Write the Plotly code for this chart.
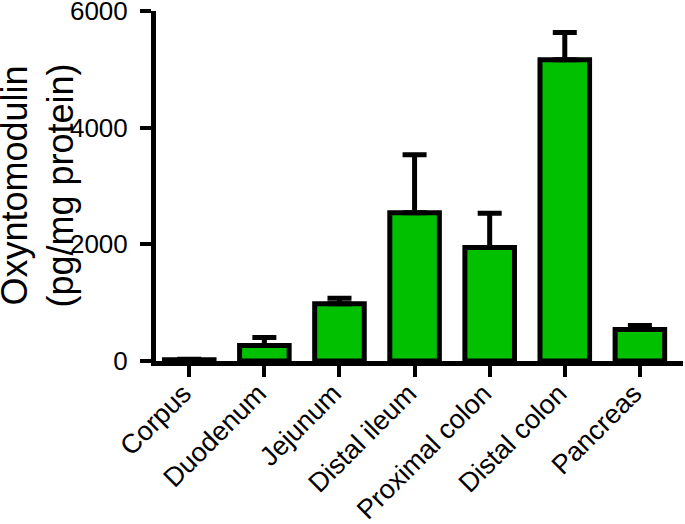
import plotly.graph_objects as go

categories = ["Corpus", "Duodenum", "Jejunum", "Distal ileum", "Proximal colon", "Distal colon", "Pancreas"]
values = [20, 265, 980, 2540, 1945, 5165, 540]
errors = [10, 140, 95, 995, 590, 465, 70]
y_ticks = [0, 2000, 4000, 6000]
y_title = "Oxyntomodulin<br>(pg/mg protein)"

W, H = 685, 524
L, R, T, B = 156, 2, 11, 163

fig = go.Figure()
fig.add_trace(go.Bar(
    x=categories,
    y=values,
    width=0.66,
    marker=dict(color="rgb(0,192,0)", line=dict(color="black", width=5)),
    error_y=dict(type="data", array=errors, arrayminus=[0] * len(errors), symmetric=False,
                 color="black", thickness=5, width=12),
))

font_family = "Arial, 'Liberation Sans', Helvetica, sans-serif"
plot_w = W - L - R
fig.update_layout(
    width=W, height=H,
    margin=dict(l=L, r=R, t=T, b=B),
    paper_bgcolor="white", plot_bgcolor="white",
    font=dict(family=font_family, color="black", size=26),
    showlegend=False,
    xaxis=dict(
        range=[-0.443, 6.574],
        automargin=False,
        showline=True, linecolor="black", linewidth=5,
        ticks="outside", ticklen=11, tickwidth=4, tickcolor="black",
        tickangle=-45, tickfont=dict(size=27),
        ticklabelstandoff=-10, ticklabelshift=-6,
        showgrid=False, zeroline=False,
    ),
    yaxis=dict(
        range=[0, 6000],
        automargin=False,
        tickvals=y_ticks,
        ticklabeloverflow="allow",
        showline=True, linecolor="black", linewidth=5,
        ticks="outside", ticklen=11, tickwidth=4, tickcolor="black",
        tickfont=dict(size=26), ticklabelstandoff=7,
        showgrid=False, zeroline=False,
    ),
    annotations=[dict(
        text=y_title, textangle=-90, showarrow=False,
        xref="paper", yref="paper",
        x=(37.5 - L) / plot_w, y=0.5, xanchor="center", yanchor="middle",
        font=dict(size=36), align="center",
    )],
)

fig.write_html("out.html", config={"displayModeBar": False},
               post_script="document.body.style.margin='0';")
